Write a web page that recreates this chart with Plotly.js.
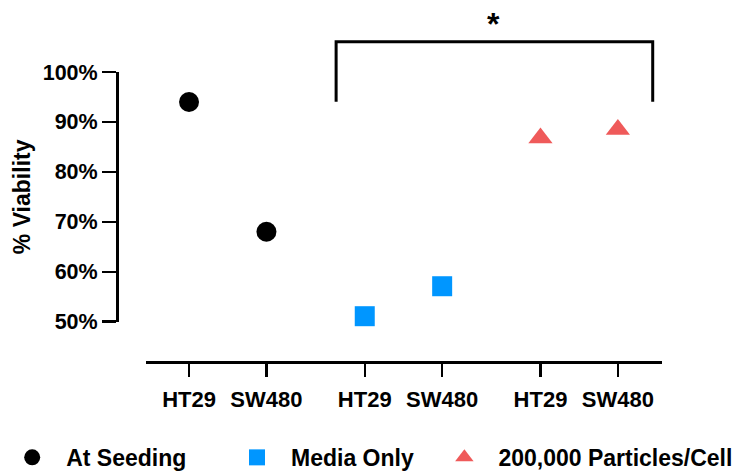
<!DOCTYPE html>
<html>
<head>
<meta charset="utf-8">
<script src="https://cdn.plot.ly/plotly-3.0.1.min.js"></script>
<style>
  html, body { margin: 0; padding: 0; background: #fff; }
  #chart { width: 739px; height: 471px; }
</style>
</head>
<body>
<div id="chart"></div>
<script>
// ---- data ----
const cellLines = ['HT29', 'SW480'];
const groupNames = ['At Seeding', 'Media Only', '200,000 Particles/Cell'];
const atSeeding = [94.0, 68.0];
const mediaOnly = [51.1, 57.1];
const particles = [86.8, 88.5];
const yTickVals = [50, 60, 70, 80, 90, 100];
const yTickText = ['50%', '60%', '70%', '80%', '90%', '100%'];
const sigLabel = '*';

// ---- layout helpers ----
const GROUP_GAP = 2.27;
const pos = (g) => cellLines.map((_, i) => g * GROUP_GAP + i);
const FONT = 'Liberation Sans, Arial, sans-serif';
const colors = ['#000000', '#0096FF', '#EF5A5A'];
const symbols = ['circle', 'square', 'triangle-up'];
const sizes = [20, 20, 21];
const seriesVals = [atSeeding, mediaOnly, particles];

const traces = seriesVals.map((vals, g) => ({
  type: 'scatter',
  mode: 'markers',
  name: groupNames[g],
  x: pos(g),
  y: vals,
  cliponaxis: false,
  legend: g === 0 ? 'legend' : 'legend' + (g + 1),
  marker: { color: colors[g], symbol: symbols[g], size: sizes[g], line: { width: 0 } }
}));

const allX = [0, 1, 2].flatMap(pos);
const allText = [0, 1, 2].flatMap(() => cellLines);

const legendBase = {
  orientation: 'h',
  xanchor: 'left',
  yanchor: 'middle',
  y: -0.329,
  bgcolor: 'rgba(0,0,0,0)',
  borderwidth: 0,
  itemwidth: 58,
  font: { family: FONT, size: 23, color: '#000', weight: 'bold' }
};

const bracketL = 1.9, bracketR = 5.99, bracketTop = 1.1045, bracketBot = 0.8976;

const layout = {
  width: 739,
  height: 471,
  margin: { l: 117, r: 77, t: 72, b: 109, pad: 0, autoexpand: false },
  paper_bgcolor: '#fff',
  plot_bgcolor: '#fff',
  showlegend: true,
  legend: Object.assign({}, legendBase, { x: -0.218 }),
  legend2: Object.assign({}, legendBase, { x: 0.1945 }),
  legend3: Object.assign({}, legendBase, { x: 0.575 }),
  xaxis: {
    domain: [0.0532, 1],
    range: [-0.556, 6.11],
    anchor: 'free',
    position: 0,
    showgrid: false,
    zeroline: false,
    showline: true,
    linecolor: '#000',
    linewidth: 3,
    ticks: 'outside',
    ticklen: 13,
    tickwidth: 2.5,
    tickcolor: '#000',
    tickvals: allX,
    ticktext: allText,
    ticklabelstandoff: 4,
    tickfont: { family: FONT, size: 22, color: '#000', weight: 'bold' }
  },
  yaxis: {
    domain: [0.139, 1],
    range: [50, 100],
    anchor: 'free',
    position: 0,
    showgrid: false,
    zeroline: false,
    showline: true,
    linecolor: '#000',
    linewidth: 3,
    ticks: 'outside',
    ticklen: 14,
    tickwidth: 2.5,
    tickcolor: '#000',
    tickvals: yTickVals,
    ticktext: yTickText,
    tickfont: { family: FONT, size: 21.5, color: '#000', weight: 'bold' },
    title: { text: '% Viability', standoff: 4, font: { family: FONT, size: 23, color: '#000', weight: 'bold' } }
  },
  shapes: [
    { type: 'path', xref: 'x', yref: 'paper',
      path: `M ${bracketL} ${bracketBot} L ${bracketL} ${bracketTop} L ${bracketR} ${bracketTop} L ${bracketR} ${bracketBot}`,
      line: { color: '#000', width: 3 } }
  ],
  annotations: [
    { text: sigLabel, xref: 'x', yref: 'paper', x: 3.93, y: 1.165,
      showarrow: false, xanchor: 'center', yanchor: 'middle',
      font: { family: FONT, size: 32, color: '#000', weight: 'bold' } }
  ]
};

Plotly.newPlot('chart', traces, layout, { displayModeBar: false, staticPlot: true });
</script>
</body>
</html>
